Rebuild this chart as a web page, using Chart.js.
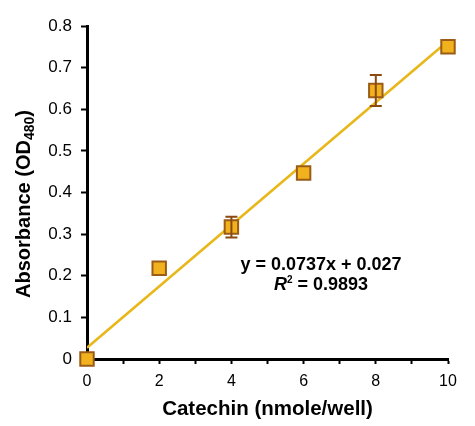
<!DOCTYPE html>
<html><head><meta charset="utf-8">
<script src="https://cdn.jsdelivr.net/npm/chart.js@4"></script>
<style>html,body{margin:0;padding:0;background:#fff}#wrap{width:475px;height:426px}</style>
</head><body><div id="wrap"><canvas id="c" width="475" height="426"></canvas></div>
<script>
const xValues = [0, 2, 4, 6, 8, 10];
const absorbance = [0, 0.218, 0.317, 0.447, 0.645, 0.750];
const errors = [0, 0.005, 0.025, 0.005, 0.037, 0.005];
const trendX = [0, 10];
const trendY = [0.027, 0.764];
const yTicks = [0, 0.1, 0.2, 0.3, 0.4, 0.5, 0.6, 0.7, 0.8];
const xLabelTicks = [0, 2, 4, 6, 8, 10];
const yTitle = 'Absorbance (OD';
const yTitleSub = '480';
const xTitle = 'Catechin (nmole/well)';
const eqLine1 = 'y = 0.0737x + 0.027';
const eqLine2R = 'R';
const eqLine2Rest = ' = 0.9893';

const FONT = '"Liberation Sans", Arial, sans-serif';

const extras = {
  id: 'extras',
  afterDatasetsDraw(chart) {
    const ctx = chart.ctx, xs = chart.scales.x, ys = chart.scales.y;
    ctx.save();
    ctx.strokeStyle = '#8a4a12';
    ctx.lineWidth = 2;
    xValues.forEach((x, i) => {
      if (errors[i] < 0.01) return;
      const px = xs.getPixelForValue(x);
      const top = ys.getPixelForValue(absorbance[i] + errors[i]);
      const bot = ys.getPixelForValue(absorbance[i] - errors[i]);
      ctx.beginPath();
      ctx.moveTo(px, top); ctx.lineTo(px, bot);
      ctx.moveTo(px - 6, top); ctx.lineTo(px + 6, top);
      ctx.moveTo(px - 6, bot); ctx.lineTo(px + 6, bot);
      ctx.stroke();
    });
    ctx.restore();
  },
  afterDraw(chart) {
    const ctx = chart.ctx;
    ctx.save();
    ctx.fillStyle = '#000';
    ctx.translate(24, 204);
    ctx.rotate(-Math.PI / 2);
    const big = 'bold 20px ' + FONT, small = 'bold 14px ' + FONT;
    ctx.font = big;
    const w1 = ctx.measureText(yTitle).width;
    ctx.font = small;
    const w2 = ctx.measureText(yTitleSub).width;
    ctx.font = big;
    const w3 = ctx.measureText(')').width;
    const sx = -(w1 + w2 + w3) / 2;
    ctx.textBaseline = 'middle';
    ctx.textAlign = 'left';
    ctx.fillText(yTitle, sx, 0);
    ctx.font = small;
    ctx.fillText(yTitleSub, sx + w1, 6);
    ctx.font = big;
    ctx.fillText(')', sx + w1 + w2, 0);
    ctx.restore();

    ctx.save();
    ctx.fillStyle = '#000';
    ctx.textBaseline = 'middle';
    ctx.textAlign = 'center';
    const eq = 'bold 18px ' + FONT;
    ctx.font = eq;
    const cx = 321;
    ctx.fillText(eqLine1, cx, 265);
    ctx.font = 'bold italic 18px ' + FONT;
    const rw = ctx.measureText(eqLine2R).width;
    ctx.font = 'bold 10px ' + FONT;
    const sw = ctx.measureText('2').width;
    ctx.font = eq;
    const restW = ctx.measureText(eqLine2Rest).width;
    const x0 = cx - (rw + sw + restW) / 2;
    ctx.textAlign = 'left';
    ctx.font = 'bold italic 18px ' + FONT;
    ctx.fillText(eqLine2R, x0, 285);
    ctx.font = 'bold 10px ' + FONT;
    ctx.fillText('2', x0 + rw, 280);
    ctx.font = eq;
    ctx.fillText(eqLine2Rest, x0 + rw + sw, 285);
    ctx.restore();
  }
};

new Chart(document.getElementById('c'), {
  type: 'scatter',
  data: {
    datasets: [
      {
        type: 'line',
        data: trendX.map((x, i) => ({x, y: trendY[i]})),
        borderColor: '#e8b71a',
        borderWidth: 2.5,
        pointRadius: 0,
        fill: false,
        order: 2
      },
      {
        data: xValues.map((x, i) => ({x, y: absorbance[i]})),
        pointStyle: 'rect',
        pointRadius: 9.5,
        pointHoverRadius: 9.5,
        backgroundColor: '#f2b21e',
        borderColor: '#9a5c16',
        borderWidth: 2,
        clip: false,
        order: 1
      }
    ]
  },
  options: {
    responsive: false,
    animation: false,
    devicePixelRatio: 1,
    layout: { padding: { top: 26, right: 27, left: 0, bottom: 0 } },
    plugins: { legend: { display: false }, tooltip: { enabled: false } },
    scales: {
      x: {
        type: 'linear', min: 0, max: 10,
        afterFit(s) { s.height = 67; },
        afterBuildTicks(s) { s.ticks = Array.from({length: 11}, (_, i) => ({value: i})); },
        grid: { drawOnChartArea: false, tickLength: 5, tickColor: '#000', tickWidth: 2 },
        border: { color: '#000', width: 3 },
        ticks: {
          color: '#000', font: { size: 16, family: FONT }, padding: 8, maxRotation: 0, autoSkip: false,
          callback: (v) => xLabelTicks.includes(v) ? String(v) : ''
        },
        title: { display: true, text: xTitle, color: '#000', font: { size: 20.5, weight: 'bold', family: FONT }, padding: { top: 0, bottom: 4 } }
      },
      y: {
        type: 'linear', min: 0, max: 0.8,
        afterFit(s) { s.width = 87; },
        afterBuildTicks(s) { s.ticks = yTicks.map(v => ({value: v})); },
        grid: { drawOnChartArea: false, tickLength: 6, tickColor: '#000', tickWidth: 2 },
        border: { color: '#000', width: 3 },
        ticks: {
          color: '#000', font: { size: 17, family: FONT }, padding: 9, autoSkip: false,
          callback: (v) => String(Math.round(v * 10) / 10)
        }
      }
    }
  },
  plugins: [extras]
});
</script>
</body></html>
